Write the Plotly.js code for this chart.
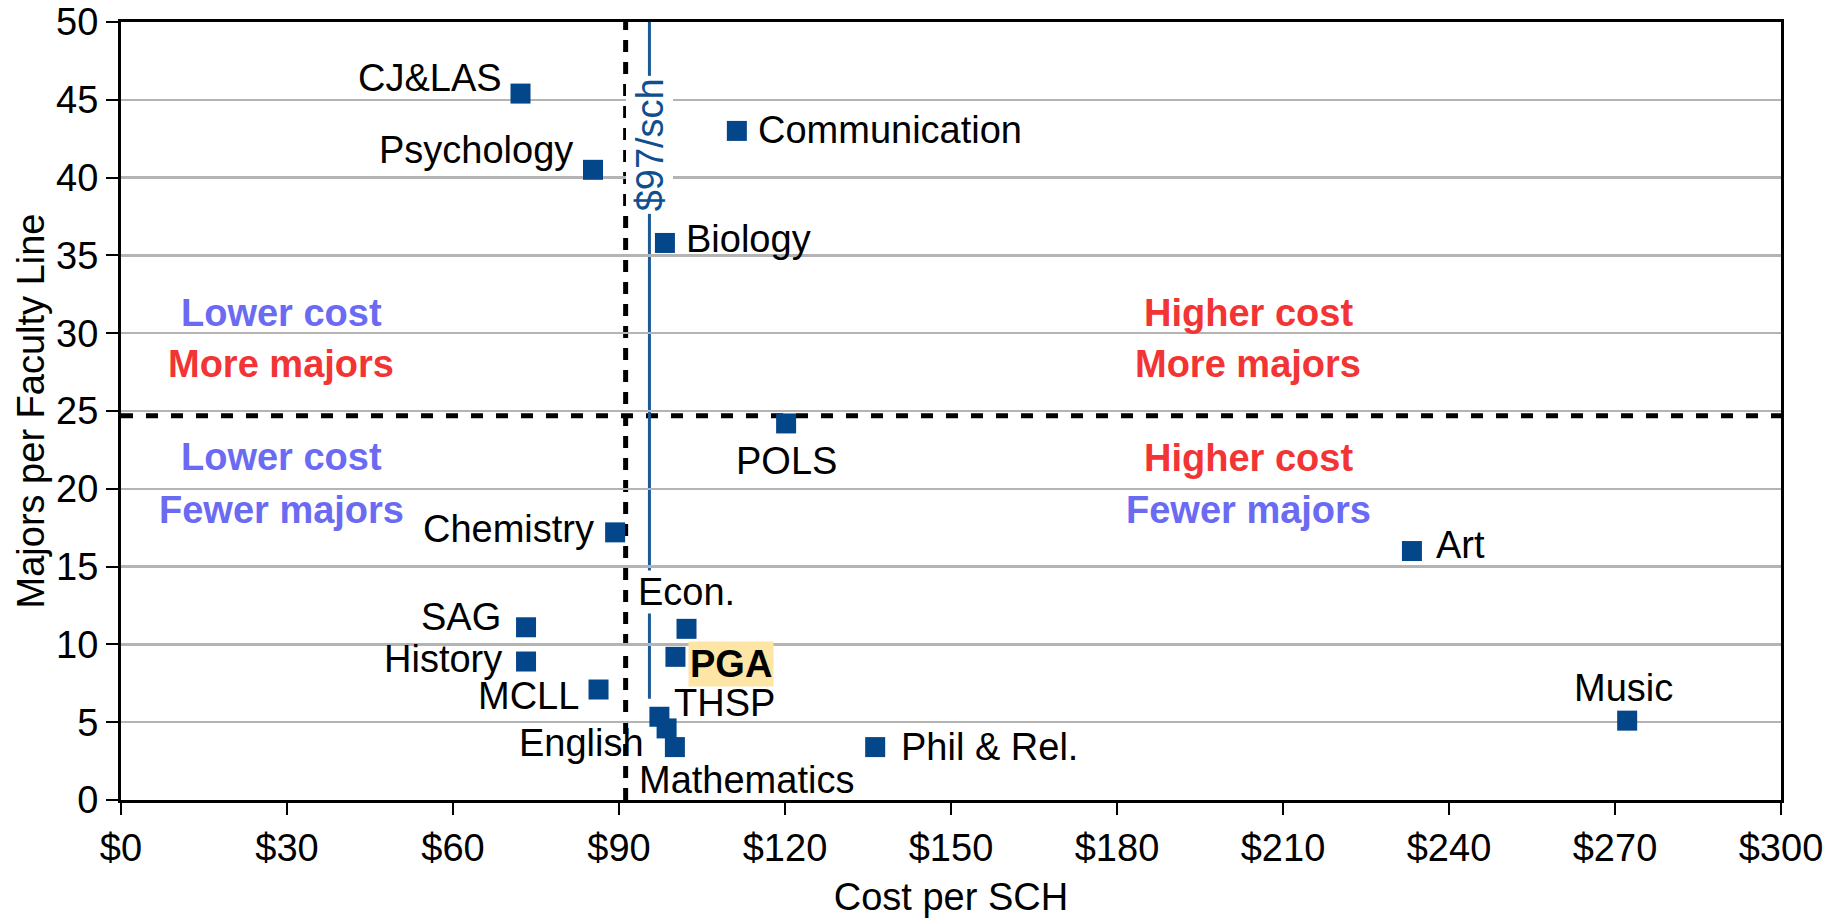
<!DOCTYPE html>
<html>
<head>
<meta charset="utf-8">
<script src="https://cdn.plot.ly/plotly-3.0.1.min.js"></script>
<style>
  html, body { margin: 0; padding: 0; background: #ffffff; }
  #chart { width: 1847px; height: 919px; }
</style>
</head>
<body>
<div id="chart"></div>
<script>
// ---- data ----
const departments = ["CJ&LAS", "Psychology", "Communication", "Biology", "POLS", "Chemistry",
  "SAG", "History", "MCLL", "Econ.", "PGA", "THSP", "English", "Mathematics", "Phil & Rel.", "Art", "Music"];
const costPerSCH = [72.2, 85.3, 111.3, 98.3, 120.2, 89.3, 73.2, 73.2, 86.3, 102.2, 100.2, 97.3, 98.6, 100.1, 136.3, 233.3, 272.2];
const majorsPerLine = [45.4, 40.5, 43.0, 35.8, 24.2, 17.2, 11.1, 8.9, 7.1, 11.0, 9.2, 5.35, 4.6, 3.4, 3.4, 16.0, 5.1];
const xTickVals = [0, 30, 60, 90, 120, 150, 180, 210, 240, 270, 300];
const xTickText = ["$0", "$30", "$60", "$90", "$120", "$150", "$180", "$210", "$240", "$270", "$300"];
const yTickVals = [0, 5, 10, 15, 20, 25, 30, 35, 40, 45, 50];
const avgCost = 91.2;        // dashed vertical divider
const avgMajors = 24.7;      // dashed horizontal divider
const targetCost = 95.5;     // "$97/sch" reference line
const targetLabel = "$97/sch";
const targetLineBottom = 6.5;
const quadrantLines = [
  ["Lower cost", "More majors"],
  ["Higher cost", "More majors"],
  ["Lower cost", "Fewer majors"],
  ["Higher cost", "Fewer majors"]
];

// ---- styles / placement (not data) ----
const FONT = '"Liberation Sans", Arial, Helvetica, sans-serif';
const FS = 38;
const BLUE_TXT = '#6a6af2';
const RED_TXT = '#f23434';
const MARK = '#04468a';

// placement of each point label: [xanchor, xshift, yshift]
const labelPlace = {
  "CJ&LAS": ['right', -18, 16],
  "Psychology": ['right', -19, 20],
  "Communication": ['left', 20, 1],
  "Biology": ['left', 20, 4],
  "POLS": ['center', 0, -38],
  "Chemistry": ['right', -20, 3],
  "SAG": ['right', -24, 10],
  "History": ['right', -23, 3],
  "MCLL": ['right', -19, -6],
  "Econ.": ['center', 0, 37],
  "PGA": ['left', 13, -7],
  "THSP": ['left', 14, 14],
  "English": ['right', -22, -15],
  "Mathematics": ['left', -37, -33],
  "Phil & Rel.": ['left', 25, 0],
  "Art": ['left', 23, 6],
  "Music": ['center', -4, 33]
};

const annotations = departments.map((name, i) => {
  const p = labelPlace[name];
  const a = {
    x: costPerSCH[i], y: majorsPerLine[i], xref: 'x', yref: 'y',
    text: name, showarrow: false,
    xanchor: p[0], yanchor: 'middle', xshift: p[1], yshift: p[2],
    font: { family: FONT, size: FS, color: '#000000' },
    borderpad: 0
  };
  if (name === "Econ.") { a.bgcolor = '#ffffff'; }
  if (name === "PGA") { a.text = '<b>PGA</b>'; a.bgcolor = '#fde5a5'; a.borderpad = 1; }
  return a;
});

// reference line label
annotations.push({
  x: targetCost, y: 42.1, xref: 'x', yref: 'y', text: targetLabel, showarrow: false,
  textangle: -90, bgcolor: '#ffffff', borderpad: 2,
  font: { family: FONT, size: FS, color: '#0f4f8f' }
});

// quadrant labels positions
const quadPos = [
  { x: 29, y1: 31.3, y2: 28.05, c1: BLUE_TXT, c2: RED_TXT },
  { x: 203.7, y1: 31.3, y2: 28.0, c1: RED_TXT, c2: RED_TXT },
  { x: 29, y1: 22.05, y2: 18.65, c1: BLUE_TXT, c2: BLUE_TXT },
  { x: 203.7, y1: 22.0, y2: 18.65, c1: RED_TXT, c2: BLUE_TXT }
];
quadrantLines.forEach((q, i) => {
  const p = quadPos[i];
  annotations.push({ x: p.x, y: p.y1, xref: 'x', yref: 'y', text: '<b>' + q[0] + '</b>', showarrow: false,
    font: { family: FONT, size: FS, color: p.c1 } });
  annotations.push({ x: p.x, y: p.y2, xref: 'x', yref: 'y', text: '<b>' + q[1] + '</b>', showarrow: false,
    font: { family: FONT, size: FS, color: p.c2 } });
});

const trace = {
  type: 'scatter', mode: 'markers',
  x: costPerSCH, y: majorsPerLine, text: departments,
  marker: { symbol: 'square', size: 20, color: MARK },
  cliponaxis: false, hoverinfo: 'text+x+y'
};

const layout = {
  width: 1847, height: 919,
  margin: { l: 121, r: 66, t: 22, b: 119 },
  paper_bgcolor: '#ffffff', plot_bgcolor: '#ffffff',
  showlegend: false,
  font: { family: FONT, size: FS, color: '#000000' },
  xaxis: {
    range: [0, 300], tickvals: xTickVals, ticktext: xTickText,
    showgrid: false, zeroline: false,
    showline: true, linecolor: '#000000', linewidth: 3, mirror: true,
    ticks: 'outside', ticklen: 12, tickwidth: 2, tickcolor: '#000000',
    tickfont: { family: FONT, size: FS, color: '#000000' },
    title: { text: 'Cost per SCH', font: { family: FONT, size: FS, color: '#000000' }, standoff: 16 },
    fixedrange: true
  },
  yaxis: {
    range: [0, 50], tickvals: yTickVals,
    showgrid: true, gridcolor: '#b4b4b4', gridwidth: 2.5, zeroline: false,
    showline: true, linecolor: '#000000', linewidth: 3, mirror: true,
    ticks: 'outside', ticklen: 12, tickwidth: 2, tickcolor: '#000000',
    tickfont: { family: FONT, size: FS, color: '#000000' },
    title: { text: 'Majors per Faculty Line', font: { family: FONT, size: FS, color: '#000000' }, standoff: 0 },
    fixedrange: true
  },
  shapes: [
    { type: 'line', layer: 'below', xref: 'x', yref: 'y', x0: avgCost, x1: avgCost, y0: 0, y1: 50,
      line: { color: '#000000', width: 5, dash: '12px,10px' } },
    { type: 'line', layer: 'below', xref: 'paper', yref: 'y', x0: 0, x1: 1, y0: avgMajors, y1: avgMajors,
      line: { color: '#000000', width: 5, dash: '12px,13px' } },
    { type: 'line', layer: 'below', xref: 'x', yref: 'y', x0: targetCost, x1: targetCost, y0: targetLineBottom, y1: 50,
      line: { color: '#1a5a96', width: 3 } }
  ],
  annotations: annotations
};

Plotly.newPlot('chart', [trace], layout, { displayModeBar: false, staticPlot: true });
</script>
</body>
</html>
